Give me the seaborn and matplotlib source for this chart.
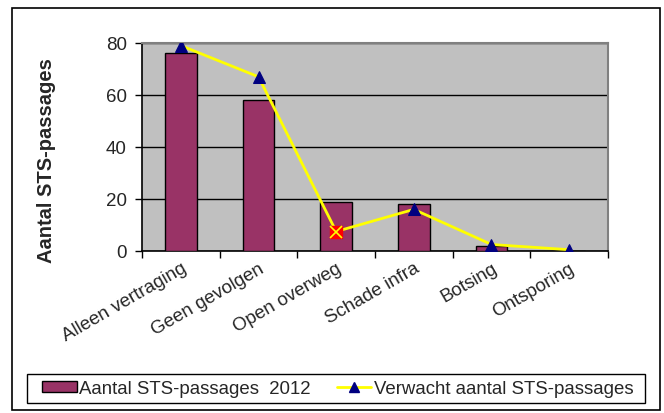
import numpy as np
import pandas as pd
import matplotlib
matplotlib.use("Agg")
import matplotlib.pyplot as plt
import seaborn as sns
from matplotlib.patches import Patch, Rectangle
from matplotlib.lines import Line2D

# data
categories = ["Alleen vertraging", "Geen gevolgen", "Open overweg",
              "Schade infra", "Botsing", "Ontsporing"]
passages_2012 = [76, 58, 19, 18, 2, 0]
expected = [79, 67, 7.5, 16, 2.5, 0.5]
bar_label = "Aantal STS-passages  2012"
line_label = "Verwacht aantal STS-passages"
y_ticks = [0, 20, 40, 60, 80]

sns.set_theme(style="white")
plt.rcParams["font.family"] = ["Liberation Sans", "DejaVu Sans"]

fig = plt.figure(figsize=(6.64, 4.14), dpi=100)
ax = fig.add_axes([142 / 664, 1 - 252 / 414, 466 / 664, 208 / 414])
ax.set_facecolor("#C0C0C0")

df = pd.DataFrame({"categorie": categories, "aantal": passages_2012})
sns.barplot(data=df, x="categorie", y="aantal", color="#993366",
            saturation=1, edgecolor="black", linewidth=1, width=0.41,
            ax=ax, zorder=3)

pos = np.arange(len(categories))
sns.lineplot(x=pos, y=expected, color="#FFFF00", linewidth=2,
             marker="^", markersize=8, markerfacecolor="#000080",
             markeredgecolor="#000080", ax=ax, zorder=4)
# the highlighted point at "Open overweg"
ax.plot(pos[2], expected[2], marker="s", markersize=9, color="#FF0000",
        linestyle="none", zorder=5)
ax.plot(pos[2], expected[2], marker="x", markersize=8, color="#FFFF00",
        markeredgewidth=1.2, linestyle="none", zorder=6)

ax.set_xlim(-0.5, len(categories) - 0.5)
ax.set_ylim(0, 80)
ax.set_yticks(y_ticks)
ax.yaxis.grid(True, color="black", linewidth=1, zorder=1)
ax.set_axisbelow(True)

ax.set_xticks(pos)
ax.set_xticklabels(categories, rotation=30, ha="right", va="top",
                   rotation_mode="anchor", fontsize=13.5)
ax.set_xticks(np.arange(-0.5, len(categories), 1), minor=True)
ax.tick_params(axis="x", which="major", length=0, pad=6)
ax.tick_params(axis="x", which="minor", length=5, width=1, color="black",
               direction="out", bottom=True)
ax.tick_params(axis="y", length=5, width=1, color="black", direction="out",
               left=True, labelsize=13.5, pad=6)

ax.set_xlabel("")
ax.set_ylabel("Aantal STS-passages", fontsize=14.5, fontweight="bold")
ax.yaxis.set_label_coords(-0.185, 0.44)

for side in ["left", "bottom"]:
    ax.spines[side].set_color("black")
    ax.spines[side].set_linewidth(1.2)
for side in ["top", "right"]:
    ax.spines[side].set_color("#808080")
    ax.spines[side].set_linewidth(1.5)

handles = [
    Patch(facecolor="#993366", edgecolor="black", linewidth=1),
    Line2D([], [], color="#FFFF00", linewidth=2, marker="^", markersize=7,
           markerfacecolor="#000080", markeredgecolor="#000080"),
]
fig.legend(handles, [bar_label, line_label], loc="center",
           bbox_to_anchor=(338 / 664, 1 - 389.5 / 414), ncol=2,
           fontsize=13.4, frameon=False, borderpad=0.2, handlelength=1.85,
           handleheight=0.6, handletextpad=0.15, columnspacing=1.4)

# legend box and outer chart border
fig.patches.append(Rectangle((27 / 664, 1 - 404 / 414), 618 / 664, 29 / 414,
                             transform=fig.transFigure, fill=False,
                             edgecolor="black", linewidth=1))
fig.patches.append(Rectangle((12 / 664, 3 / 414), 648 / 664, 402 / 414,
                             transform=fig.transFigure, fill=False,
                             edgecolor="black", linewidth=1.2))

fig.savefig("out.png", dpi=100, facecolor="white")
